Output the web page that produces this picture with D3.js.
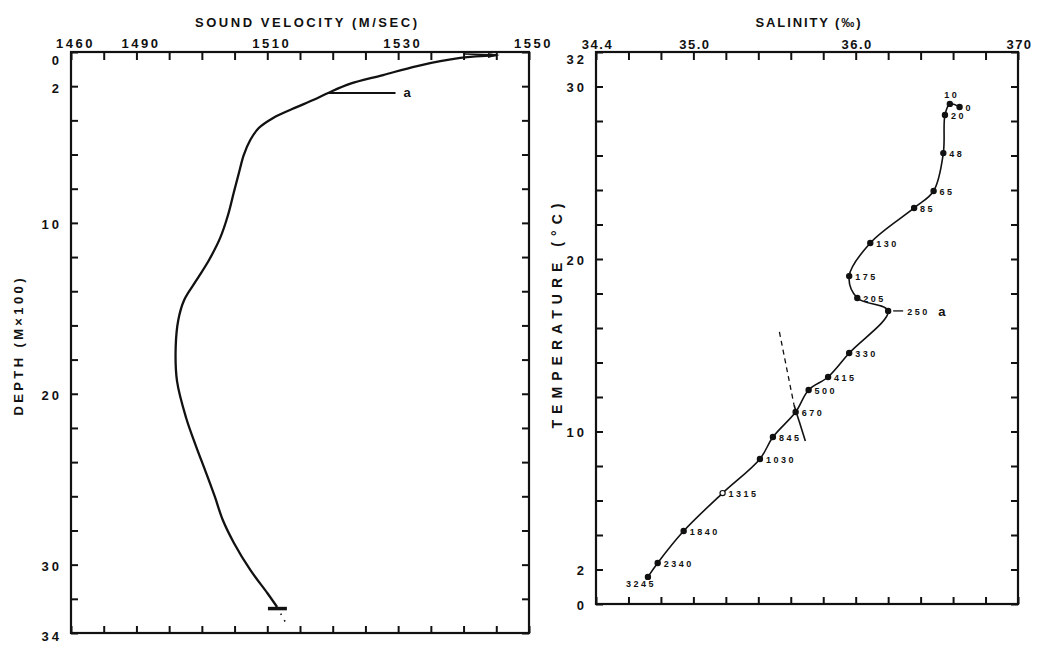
<!DOCTYPE html>
<html><head><meta charset="utf-8">
<script src="https://cdn.jsdelivr.net/npm/d3@7"></script>
<style>
body{margin:0;background:#fff}
text{font-family:"Liberation Sans",Arial,sans-serif;fill:#111;font-weight:bold}
</style>
</head><body>
<svg id="c" width="1048" height="648"></svg>
<script>
// ---------- DATA ----------
// Left panel: sound velocity profile
const velocity = [1545.1,1539.5,1532.9,1527.7,1522.6,1519.3,1517.0,1513.8,1510.9,1508.7,1507.4,1506.4,1505.7,1504.9,1504.0,1502.8,1501.1,1499.1,1497.3,1496.4,1496.0,1496.2,1497.6,1499.1,1500.6,1502.0,1503.2,1504.9,1507.4,1510.0,1511.5];
const depth = [0.18,0.35,0.82,1.35,1.87,2.40,2.81,3.34,3.86,4.45,5.15,6.03,7.02,8.19,9.54,10.88,12.17,13.40,14.51,15.68,17.26,19.25,21.42,23.06,24.58,26.04,27.39,28.73,30.31,31.66,32.48];
const bottomBarVel = [1510.1,1513.0];
const bottomBarDepth = 32.57;
const bottomDotVel = [1511.5,1513.1];
const bottomDotDepth = [32.48,33.6];
const annotAVel = [1519.3,1529.6];
const annotADepth = 2.40;
const velTickValues = [1480,1490,1510,1530,1550];
const velTickLabels = ["1460","1490","1510","1530","1550"];
const depthTickValues = [0,2,10,20,30,34];
const depthTickLabels = ["0","2","10","20","30","34"];

// Right panel: T-S diagram
const tsDepth = ["0","10","20","48","65","85","130","175","205","250","330","415","500","670","845","1030","1315","1840","2340","3245"];
const salinity = [36.64,36.58,36.55,36.54,36.48,36.36,36.09,35.96,36.01,36.20,35.96,35.83,35.71,35.63,35.49,35.41,35.18,34.94,34.78,34.72];
const temperature = [28.81,28.99,28.35,26.14,23.94,22.96,20.93,19.01,17.74,16.99,14.55,13.16,12.41,11.13,9.68,8.41,6.43,4.23,2.38,1.57];
const refLineS = [35.53,35.62,35.69];
const refLineT = [15.77,11.54,9.45];
const salTickValues = [34.4,35.0,36.0,37.0];
const salTickLabels = ["34.4","35.0","36.0","370"];
const tempTickValues = [0,2,10,20,30,32];
const tempTickLabels = ["0","2","10","20","30","32"];
const openMarkers = ["1315"];

// ---------- DRAW ----------
const svg = d3.select("#c");
const L = {x0:71,x1:529,y0:52,y1:633};
const R = {x0:596,x1:1018,y0:52,y1:604};

const vx = d3.scaleLinear().domain([1480,1550]).range([L.x0,L.x1]);
const vy = d3.scaleLinear().domain([0,34]).range([L.y0,L.y1]);
const sx = d3.scaleLinear().domain([34.4,37.0]).range([R.x0,R.x1]);
const ty = d3.scaleLinear().domain([0,32]).range([R.y1,R.y0]);

function frame(P, xs, ys, xticks, yticks){
  const g = svg.append("g");
  const tk = (sel)=>sel.call(s=>s.select(".domain").remove())
     .call(s=>s.selectAll(".tick line").attr("stroke","#111").attr("stroke-width",2));
  g.append("g").attr("transform",`translate(0,${P.y0})`).call(d3.axisTop(xs).tickValues(xticks).tickSize(-8).tickFormat("")).call(tk);
  g.append("g").attr("transform",`translate(0,${P.y1})`).call(d3.axisBottom(xs).tickValues(xticks).tickSize(-7).tickFormat("")).call(tk);
  g.append("g").attr("transform",`translate(${P.x0},0)`).call(d3.axisLeft(ys).tickValues(yticks).tickSize(-7).tickFormat("")).call(tk);
  g.append("g").attr("transform",`translate(${P.x1},0)`).call(d3.axisRight(ys).tickValues(yticks).tickSize(-7).tickFormat("")).call(tk);
  g.append("rect").attr("x",P.x0).attr("y",P.y0).attr("width",P.x1-P.x0).attr("height",P.y1-P.y0)
    .attr("fill","none").attr("stroke","#111").attr("stroke-width",2.2);
}
frame(L, vx, vy, d3.range(1480,1551,5), d3.range(0,35,2));
frame(R, sx, ty, d3.range(0,14).map(i=>+(34.4+0.2*i).toFixed(1)), d3.range(0,33,2));

// tick labels
function labelAxis(axisFn, scale, vals, labs, tr, pad, fs, ls, dx, dy){
  const g = svg.append("g").attr("transform",tr)
    .call(axisFn(scale).tickValues(vals).tickSize(0).tickPadding(pad).tickFormat((d,i)=>labs[i]));
  g.select(".domain").remove();
  g.selectAll("text").attr("font-size",fs).attr("letter-spacing",ls)
    .attr("font-family","Liberation Sans, Arial, sans-serif").attr("font-weight","bold").attr("fill","#111")
    .attr("dx",dx).attr("dy",dy);
  return g;
}
labelAxis(d3.axisTop, vx, velTickValues, velTickLabels, `translate(0,${L.y0})`, 4, 13, 2.5, 4, 0);
const dl = labelAxis(d3.axisLeft, vy, depthTickValues, depthTickLabels, `translate(${L.x0},0)`, 9, 13, 3, 0, 0);
dl.selectAll("text").attr("dy",(d)=> d===0? "0.95em" : (d===34? "0.6em":"0.45em"));
labelAxis(d3.axisTop, sx, salTickValues, salTickLabels, `translate(0,${R.y0})`, 3, 13, 1.5, 1, 0);
const tl = labelAxis(d3.axisLeft, ty, tempTickValues, tempTickLabels, `translate(${R.x0},0)`, 9, 13, 3, 0, 0);
tl.selectAll("text").attr("dy",(d)=> d===32? "0.85em" : "0.4em");

// axis titles
function title(txt, x, y, rot, len, fs){
  svg.append("text").attr("transform",`translate(${x},${y}) rotate(${rot})`).attr("text-anchor","middle")
    .attr("font-size",fs).attr("textLength",len).attr("lengthAdjust","spacing").text(txt);
}
title("SOUND VELOCITY (M/SEC)", 306, 27, 0, 222, 13);
title("SALINITY (‰)", 808, 27, 0, 105, 13);
title("DEPTH (M×100)", 23, 347, -90, 137, 13);
title("TEMPERATURE (°C)", 562, 316, -90, 225, 14);

// left curve
const svLine = d3.line().x(i=>vx(velocity[i])).y(i=>vy(depth[i])).curve(d3.curveCatmullRom.alpha(0.5));
svg.append("path").attr("d",svLine(d3.range(velocity.length))).attr("fill","none").attr("stroke","#111").attr("stroke-width",2.3);
// wedge at surface
const ex = vx(velocity[0]), ey = vy(depth[0]);
svg.append("path").attr("d",`M${ex-32},${L.y0+2} L${ex},${ey}`).attr("stroke","#111").attr("stroke-width",1.5).attr("fill","none");
svg.append("path").attr("d",`M${ex+3},${ey} L${ex-9},${L.y0+1} L${ex-9},${ey+3} Z`).attr("fill","#111");
// annotation a
svg.append("line").attr("x1",vx(annotAVel[0])).attr("x2",vx(annotAVel[1])).attr("y1",vy(annotADepth)).attr("y2",vy(annotADepth)).attr("stroke","#111").attr("stroke-width",1.8);
svg.append("text").attr("x",vx(annotAVel[1])+8).attr("y",vy(annotADepth)+4).attr("font-size",13).text("a");
// bottom bar + dots
svg.append("line").attr("x1",vx(bottomBarVel[0])).attr("x2",vx(bottomBarVel[1])).attr("y1",vy(bottomBarDepth)).attr("y2",vy(bottomBarDepth)).attr("stroke","#111").attr("stroke-width",3.5);
svg.append("line").attr("x1",vx(bottomDotVel[0])).attr("x2",vx(bottomDotVel[1])).attr("y1",vy(bottomDotDepth[0])).attr("y2",vy(bottomDotDepth[1])).attr("stroke","#111").attr("stroke-width",1.6).attr("stroke-dasharray","1.5,6");

// right: reference line
svg.append("line").attr("x1",sx(refLineS[0])).attr("y1",ty(refLineT[0])).attr("x2",sx(refLineS[1])).attr("y2",ty(refLineT[1])).attr("stroke","#111").attr("stroke-width",1.3).attr("stroke-dasharray","5,4");
svg.append("line").attr("x1",sx(refLineS[1])).attr("y1",ty(refLineT[1])).attr("x2",sx(refLineS[2])).attr("y2",ty(refLineT[2])).attr("stroke","#111").attr("stroke-width",1.6);

// T-S curve
const tsLine = d3.line().x(i=>sx(salinity[i])).y(i=>ty(temperature[i])).curve(d3.curveCatmullRom.alpha(0.5));
svg.append("path").attr("d",tsLine(d3.range(salinity.length))).attr("fill","none").attr("stroke","#111").attr("stroke-width",1.6);
const idx = d3.range(salinity.length);
svg.append("g").selectAll("circle").data(idx).join("circle")
  .attr("cx",i=>sx(salinity[i])).attr("cy",i=>ty(temperature[i])).attr("r",2.6)
  .attr("fill",i=>openMarkers.includes(tsDepth[i])?"#fff":"#111").attr("stroke","#111").attr("stroke-width",1.2);
const place = {"10":[2,-6,"middle"],"3245":[-7,10,"middle"],"250":[19,4,"start"]};
svg.append("g").selectAll("text").data(idx).join("text")
  .attr("x",i=>sx(salinity[i])+(place[tsDepth[i]]?place[tsDepth[i]][0]:6))
  .attr("y",i=>ty(temperature[i])+(place[tsDepth[i]]?place[tsDepth[i]][1]:4))
  .attr("text-anchor",i=>place[tsDepth[i]]?place[tsDepth[i]][2]:"start")
  .attr("font-size",9).attr("letter-spacing",2.5).text(i=>tsDepth[i]);
const i250 = tsDepth.indexOf("250");
svg.append("line").attr("x1",sx(salinity[i250])+5).attr("x2",sx(salinity[i250])+15)
  .attr("y1",ty(temperature[i250])).attr("y2",ty(temperature[i250])).attr("stroke","#111").attr("stroke-width",1.3);
svg.append("text").attr("x",sx(salinity[i250])+50).attr("y",ty(temperature[i250])+5).attr("font-size",13).text("a");
</script>
</body></html>
